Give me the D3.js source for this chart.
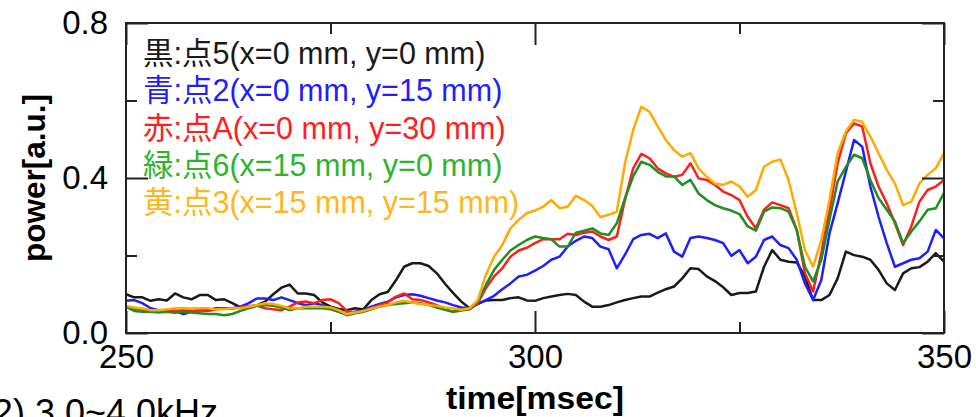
<!DOCTYPE html>
<html>
<head>
<meta charset="utf-8">
<script src="https://cdn.jsdelivr.net/npm/d3@7"></script>
<style>
  html, body { margin: 0; padding: 0; background: #fff; }
  svg { display: block; }
  text { font-family: "Liberation Sans", Arial, "Noto Sans CJK JP", sans-serif; }
</style>
</head>
<body>
<div id="chart"></div>
<script>
// time axis [msec], one sample per msec
const timeStart = 250;
const timeEnd = 350;

// power [a.u.], 250..350 msec
const black = [
    0.100, 0.092, 0.092, 0.083, 0.087, 0.084, 0.102, 0.092, 0.087, 0.098,
    0.098, 0.085, 0.087, 0.077, 0.066, 0.066, 0.071, 0.081, 0.100, 0.117,
    0.125, 0.102, 0.102, 0.098, 0.079, 0.068, 0.062, 0.059, 0.064, 0.061,
    0.085, 0.100, 0.106, 0.136, 0.171, 0.180, 0.180, 0.173, 0.154, 0.127,
    0.103, 0.081, 0.064, 0.075, 0.084, 0.085, 0.085, 0.090, 0.092, 0.084,
    0.083, 0.090, 0.094, 0.098, 0.101, 0.098, 0.081, 0.068, 0.068, 0.072,
    0.079, 0.085, 0.090, 0.094, 0.094, 0.104, 0.113, 0.120, 0.141, 0.167,
    0.165, 0.146, 0.134, 0.118, 0.098, 0.103, 0.103, 0.107, 0.171, 0.214,
    0.189, 0.184, 0.182, 0.146, 0.085, 0.085, 0.098, 0.141, 0.210, 0.201,
    0.197, 0.189, 0.163, 0.128, 0.111, 0.154, 0.167, 0.170, 0.184, 0.206,
    0.184
];
const blue = [
    0.083, 0.085, 0.077, 0.064, 0.059, 0.057, 0.057, 0.049, 0.055, 0.059,
    0.059, 0.064, 0.064, 0.064, 0.068, 0.077, 0.089, 0.089, 0.085, 0.092,
    0.085, 0.077, 0.072, 0.077, 0.072, 0.064, 0.055, 0.051, 0.055, 0.059,
    0.068, 0.075, 0.081, 0.092, 0.098, 0.100, 0.096, 0.090, 0.084, 0.079,
    0.072, 0.066, 0.064, 0.075, 0.085, 0.096, 0.113, 0.128, 0.146, 0.150,
    0.161, 0.173, 0.189, 0.197, 0.223, 0.238, 0.249, 0.245, 0.223, 0.216,
    0.167, 0.202, 0.242, 0.253, 0.256, 0.245, 0.257, 0.210, 0.197, 0.245,
    0.249, 0.245, 0.240, 0.232, 0.199, 0.214, 0.180, 0.197, 0.240, 0.249,
    0.227, 0.219, 0.189, 0.128, 0.085, 0.137, 0.257, 0.335, 0.416, 0.498,
    0.481, 0.378, 0.300, 0.232, 0.171, 0.180, 0.189, 0.193, 0.210, 0.266,
    0.244
];
const red = [
    0.066, 0.063, 0.059, 0.059, 0.057, 0.057, 0.057, 0.059, 0.057, 0.059,
    0.057, 0.061, 0.064, 0.064, 0.066, 0.070, 0.071, 0.064, 0.061, 0.059,
    0.068, 0.079, 0.081, 0.077, 0.085, 0.087, 0.077, 0.057, 0.053, 0.055,
    0.064, 0.072, 0.079, 0.094, 0.102, 0.087, 0.085, 0.079, 0.072, 0.061,
    0.055, 0.060, 0.061, 0.077, 0.116, 0.146, 0.167, 0.197, 0.213, 0.220,
    0.232, 0.242, 0.242, 0.242, 0.256, 0.253, 0.259, 0.262, 0.249, 0.240,
    0.249, 0.343, 0.425, 0.462, 0.451, 0.425, 0.412, 0.403, 0.408, 0.438,
    0.399, 0.395, 0.382, 0.365, 0.356, 0.343, 0.300, 0.270, 0.318, 0.337,
    0.330, 0.322, 0.266, 0.154, 0.107, 0.206, 0.318, 0.438, 0.515, 0.541,
    0.533, 0.438, 0.378, 0.335, 0.283, 0.227, 0.275, 0.339, 0.369, 0.378,
    0.395
];
const green = [
    0.068, 0.057, 0.055, 0.055, 0.053, 0.055, 0.052, 0.055, 0.053, 0.051,
    0.049, 0.049, 0.046, 0.049, 0.057, 0.064, 0.070, 0.072, 0.070, 0.066,
    0.059, 0.064, 0.064, 0.064, 0.064, 0.061, 0.055, 0.046, 0.051, 0.055,
    0.061, 0.068, 0.072, 0.075, 0.077, 0.079, 0.077, 0.072, 0.066, 0.060,
    0.055, 0.058, 0.061, 0.081, 0.124, 0.163, 0.189, 0.213, 0.227, 0.240,
    0.249, 0.245, 0.242, 0.223, 0.223, 0.259, 0.264, 0.270, 0.257, 0.253,
    0.283, 0.348, 0.404, 0.442, 0.434, 0.416, 0.404, 0.404, 0.382, 0.395,
    0.360, 0.343, 0.330, 0.322, 0.316, 0.307, 0.275, 0.264, 0.313, 0.324,
    0.322, 0.313, 0.266, 0.171, 0.133, 0.189, 0.292, 0.391, 0.428, 0.460,
    0.451, 0.395, 0.348, 0.318, 0.288, 0.232, 0.262, 0.288, 0.318, 0.322,
    0.361
];
const yellow = [
    0.070, 0.066, 0.063, 0.059, 0.059, 0.061, 0.064, 0.064, 0.063, 0.064,
    0.064, 0.061, 0.061, 0.064, 0.064, 0.068, 0.072, 0.077, 0.075, 0.070,
    0.064, 0.064, 0.068, 0.068, 0.068, 0.066, 0.059, 0.049, 0.053, 0.057,
    0.063, 0.068, 0.072, 0.079, 0.083, 0.078, 0.075, 0.072, 0.070, 0.066,
    0.063, 0.060, 0.064, 0.085, 0.150, 0.197, 0.227, 0.270, 0.292, 0.309,
    0.316, 0.326, 0.343, 0.322, 0.326, 0.354, 0.343, 0.328, 0.299, 0.305,
    0.313, 0.438, 0.524, 0.584, 0.571, 0.533, 0.498, 0.472, 0.455, 0.464,
    0.425, 0.403, 0.386, 0.382, 0.391, 0.378, 0.352, 0.369, 0.429, 0.442,
    0.448, 0.395, 0.309, 0.214, 0.171, 0.240, 0.343, 0.464, 0.520, 0.550,
    0.545, 0.507, 0.464, 0.421, 0.386, 0.330, 0.339, 0.386, 0.408, 0.425,
    0.464
];

const legendLabels = [
    '黒:点5(x=0 mm, y=0 mm)',
    '青:点2(x=0 mm, y=15 mm)',
    '赤:点A(x=0 mm, y=30 mm)',
    '緑:点6(x=15 mm, y=0 mm)',
    '黄:点3(x=15 mm, y=15 mm)'
];
const xMajorTicks = [250, 300, 350];
const xMinorTicks = [275, 325];
const yMajorTicks = [0.0, 0.4, 0.8];
const yMinorTicks = [0.2, 0.6];

const series = [
    { values: black,  line: '#1a1a1a', label: '#1a1a1a' },
    { values: blue,   line: '#1e1eff', label: '#1e1eff' },
    { values: red,    line: '#ff1e1e', label: '#ff1e1e' },
    { values: green,  line: '#1f8f1f', label: '#2cb52c' },
    { values: yellow, line: '#ffaa00', label: '#ffb61a' }
];

const width = 976, height = 417;
const margin = { top: 23, right: 32, bottom: 84, left: 126 };

const svg = d3.select('#chart').append('svg')
    .attr('width', width)
    .attr('height', height);

const x = d3.scaleLinear().domain([timeStart, timeEnd]).range([margin.left, width - margin.right]);
const y = d3.scaleLinear().domain([0, 0.8]).range([height - margin.bottom, margin.top]);
const times = d3.range(timeStart, timeEnd + 1);

// Lines
const line = d3.line()
    .x((d, i) => x(times[i]))
    .y(d => y(d));

svg.append('g').selectAll('path')
    .data(series)
    .enter()
    .append('path')
    .attr('d', d => line(d.values))
    .attr('fill', 'none')
    .attr('stroke', d => d.line)
    .attr('stroke-width', 2.5)
    .attr('stroke-linejoin', 'round');

// Axes (ticks point inward)
const axisColor = '#222';
function styleAxis(g) {
    g.select('.domain').remove();
    g.selectAll('line').attr('stroke', axisColor).attr('stroke-width', 2);
    g.selectAll('text')
        .attr('fill', '#000')
        .style('font-size', '33px');
}

const yb = height - margin.bottom;
const xr = width - margin.right;

svg.append('g')
    .attr('transform', `translate(0,${yb})`)
    .call(d3.axisBottom(x).tickValues(xMajorTicks).tickSize(-22).tickPadding(12).tickFormat(d3.format('d')))
    .call(styleAxis);
svg.append('g')
    .attr('transform', `translate(0,${yb})`)
    .call(d3.axisBottom(x).tickValues(xMinorTicks).tickSize(-11).tickFormat(''))
    .call(styleAxis);
svg.append('g')
    .attr('transform', `translate(0,${margin.top})`)
    .call(d3.axisTop(x).tickValues(xMajorTicks).tickSize(-22).tickFormat(''))
    .call(styleAxis);
svg.append('g')
    .attr('transform', `translate(0,${margin.top})`)
    .call(d3.axisTop(x).tickValues(xMinorTicks).tickSize(-11).tickFormat(''))
    .call(styleAxis);

svg.append('g')
    .attr('transform', `translate(${margin.left},0)`)
    .call(d3.axisLeft(y).tickValues(yMajorTicks).tickSize(-22).tickPadding(18).tickFormat(d3.format('.1f')))
    .call(styleAxis);
svg.append('g')
    .attr('transform', `translate(${margin.left},0)`)
    .call(d3.axisLeft(y).tickValues(yMinorTicks).tickSize(-11).tickFormat(''))
    .call(styleAxis);
svg.append('g')
    .attr('transform', `translate(${xr},0)`)
    .call(d3.axisRight(y).tickValues(yMajorTicks).tickSize(-22).tickFormat(''))
    .call(styleAxis);
svg.append('g')
    .attr('transform', `translate(${xr},0)`)
    .call(d3.axisRight(y).tickValues(yMinorTicks).tickSize(-11).tickFormat(''))
    .call(styleAxis);

// Frame
svg.append('rect')
    .attr('x', margin.left)
    .attr('y', margin.top)
    .attr('width', xr - margin.left)
    .attr('height', yb - margin.top)
    .attr('fill', 'none')
    .attr('stroke', axisColor)
    .attr('stroke-width', 2);

// Axis titles
svg.append('text')
    .attr('transform', `translate(45,${(margin.top + yb) / 2}) rotate(-90)`)
    .attr('text-anchor', 'middle')
    .attr('textLength', 168)
    .attr('lengthAdjust', 'spacingAndGlyphs')
    .style('font-size', '32px')
    .style('font-weight', 'bold')
    .text('power[a.u.]');

svg.append('text')
    .attr('x', (margin.left + xr) / 2)
    .attr('y', 409)
    .attr('text-anchor', 'middle')
    .attr('textLength', 178)
    .attr('lengthAdjust', 'spacingAndGlyphs')
    .style('font-size', '32px')
    .style('font-weight', 'bold')
    .text('time[msec]');

// Legend
const legend = svg.append('g').attr('transform', 'translate(143,64)');
legend.selectAll('text')
    .data(series)
    .enter()
    .append('text')
    .attr('x', 0)
    .attr('y', (d, i) => i * 37.3)
    .attr('fill', d => d.label)
    .style('font-size', '30.5px')
    .text((d, i) => legendLabels[i]);

// Caption cut off at the bottom edge
svg.append('text')
    .attr('x', 218)
    .attr('y', 425)
    .attr('text-anchor', 'end')
    .style('font-size', '36px')
    .text('(2) 3.0~4.0kHz');
</script>
</body>
</html>
